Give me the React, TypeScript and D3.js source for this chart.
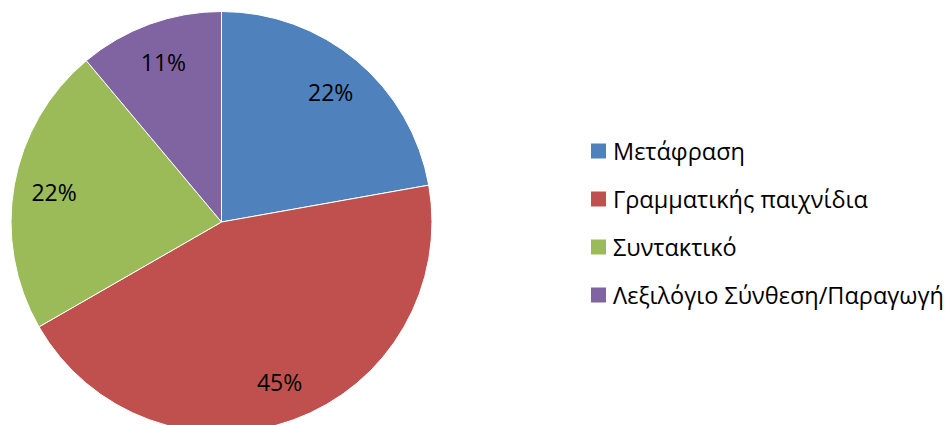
import React from "react";
import * as d3 from "d3";

const categories = ["Μετάφραση", "Γραμματικής παιχνίδια", "Συντακτικό", "Λεξιλόγιο Σύνθεση/Παραγωγή"];
const values = [22.2, 44.5, 22.2, 11.1];
const colors = ["#4F81BD", "#C0504D", "#9BBB59", "#8064A2"];

const W = 945;
const H = 425;
const cx = 221.5;
const cy = 222;
const R = 210.5;
const labelR = 170;
const FONT = "'Open Sans', 'Noto Sans', sans-serif";

export default function App() {
  const total = d3.sum(values);
  const pie = d3.pie<number>().sort(null).value((d) => d)(values);
  const arc = d3.arc<d3.PieArcDatum<number>>().innerRadius(0).outerRadius(R);
  const labelArc = d3.arc<d3.PieArcDatum<number>>().innerRadius(labelR).outerRadius(labelR);
  const legendY = d3.scalePoint<string>().domain(categories).range([151, 295]);

  return (
    <div style={{ position: "absolute", left: 0, top: 0, width: W, height: H, background: "#fff" }}>
      <svg width={W} height={H} style={{ display: "block" }}>
        <rect width={W} height={H} fill="#fff" />
        <g transform={`translate(${cx},${cy})`}>
          {pie.map((p, i) => (
            <path key={i} d={arc(p) || ""} fill={colors[i]} stroke="#fff" strokeWidth={1} />
          ))}
          {pie.map((p, i) => {
            const [x, y] = labelArc.centroid(p);
            return (
              <text
                key={"l" + i}
                x={x}
                y={y}
                textAnchor="middle"
                dominantBaseline="central"
                fontFamily={FONT}
                fontSize={23}
                fill="#000"
              >
                {Math.round((p.data / total) * 100)}%
              </text>
            );
          })}
        </g>
        {categories.map((c, i) => (
          <g key={c} transform={`translate(591,${legendY(c)})`}>
            <rect x={0} y={-7.5} width={15} height={15} fill={colors[i]} />
            <text x={22} y={0} dominantBaseline="central" fontFamily={FONT} fontSize={23.5} fill="#000">
              {c}
            </text>
          </g>
        ))}
      </svg>
    </div>
  );
}
